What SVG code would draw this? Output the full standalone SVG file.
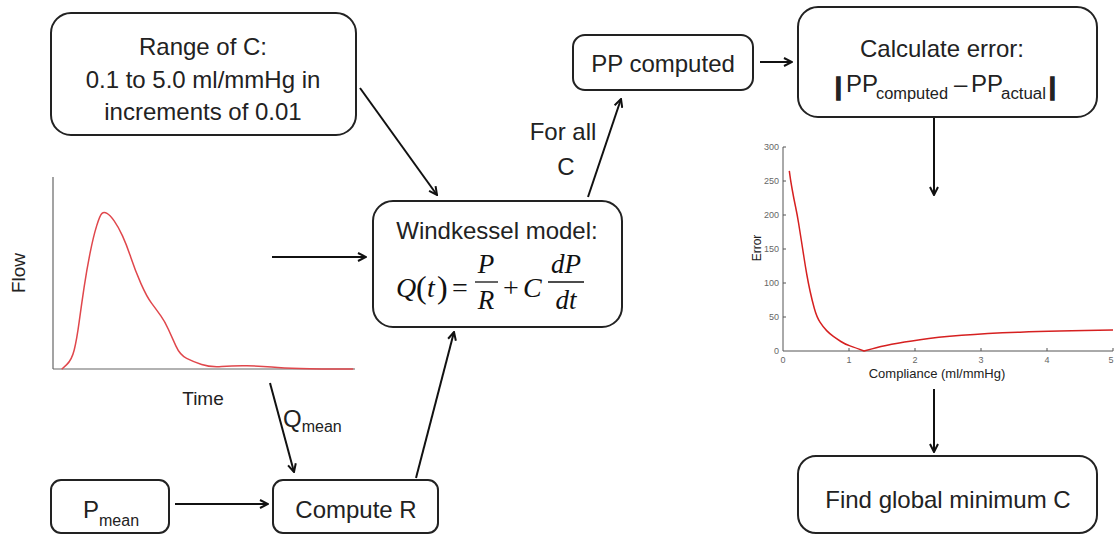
<svg xmlns="http://www.w3.org/2000/svg" width="1116" height="535" viewBox="0 0 1116 535">
<style>
.box{fill:#fff;stroke:#222;stroke-width:2}
.t{font-family:"Liberation Sans",Arial,sans-serif;font-size:24px;fill:#222}
.sub{font-family:"Liberation Sans",Arial,sans-serif;font-size:16px;fill:#222}
.m{font-family:"Liberation Serif","Times New Roman",serif;font-style:italic;fill:#111}
.mn{font-family:"Liberation Serif","Times New Roman",serif;fill:#111}
.con{stroke:#111;stroke-width:2;fill:none;marker-end:url(#ah)}
.ax{stroke:#555;stroke-width:1;fill:none}
.tick{font-family:"Liberation Sans",Arial,sans-serif;font-size:9px;fill:#666}
.lbl{font-family:"Liberation Sans",Arial,sans-serif;fill:#222}
</style>
<defs>
<marker id="ah" viewBox="0 0 10 10" refX="9" refY="5" markerWidth="10" markerHeight="10" markerUnits="userSpaceOnUse" orient="auto">
<path d="M1,1 L9,5 L1,9" stroke="#111" stroke-width="2" fill="none"/>
</marker>
</defs>
<rect width="1116" height="535" fill="#fff"/>

<g id="connectors">
<line class="con" x1="360" y1="88" x2="437" y2="195"/>
<line class="con" x1="272" y1="257" x2="366" y2="257"/>
<line class="con" x1="270" y1="383" x2="294" y2="472"/>
<line class="con" x1="175" y1="504" x2="268" y2="504"/>
<line class="con" x1="416" y1="478" x2="454" y2="332"/>
<line class="con" x1="588" y1="197" x2="621" y2="99"/>
<line class="con" x1="760" y1="62" x2="792" y2="62"/>
<line class="con" x1="934" y1="118" x2="934" y2="195"/>
<line class="con" x1="934" y1="389" x2="934" y2="452"/>
<text class="t" x="563" y="140" text-anchor="middle">For all</text>
<text class="t" x="566" y="175" text-anchor="middle">C</text>
<text class="t" x="283" y="427">Q<tspan class="sub" dy="5">mean</tspan></text>
</g>

<g id="range">
<rect class="box" x="51" y="13" width="305" height="122" rx="20"/>
<text class="t" x="203" y="55" text-anchor="middle">Range of C:</text>
<text class="t" x="203" y="88" text-anchor="middle">0.1 to 5.0 ml/mmHg in</text>
<text class="t" x="203" y="120" text-anchor="middle">increments of 0.01</text>
</g>

<g id="flow-graph">
<line x1="53" y1="177" x2="53" y2="369" stroke="#666" stroke-width="1.2"/>
<line x1="53" y1="369" x2="355" y2="369" stroke="#666" stroke-width="1.2"/>
<path fill="none" stroke="#e0474c" stroke-width="1.5" d="M61.7,369.3 L66.7,364.65 Q71.7,360 74.2,350 Q76.7,340 79.2,321.65 Q81.7,303.3 84.2,286.65 Q86.7,270 90,253.35 Q93.3,236.7 96.65,225.85 Q100,215 102,213.35 Q104,211.7 107,213.35 Q110,215 114.15,220.85 Q118.3,226.7 122.5,235.85 Q126.7,245 130.85,257.5 Q135,270 140.85,283.35 Q146.7,296.7 151.7,303.35 Q156.7,310 160.85,315.85 Q165,321.7 168.35,329.2 Q171.7,336.7 175.85,345.85 Q180,355 186.65,358.35 Q193.3,361.7 201.65,364.5 Q210,367.3 221.65,366.5 Q233.3,365.7 246.65,365.85 Q260,366 271.65,367 Q283.3,368 300,368.5 Q316.7,369 353.3,369"/>
<text class="lbl" font-size="19" transform="translate(25,273) rotate(-90)" text-anchor="middle">Flow</text>
<text class="lbl" font-size="19" x="203" y="405" text-anchor="middle">Time</text>
</g>

<g id="windkessel">
<rect class="box" x="373" y="201" width="249" height="126" rx="20"/>
<text class="t" x="497" y="239" text-anchor="middle">Windkessel model:</text>
<text class="m" font-size="28" x="396" y="297">Q</text>
<text class="mn" font-size="32" x="416" y="298">(</text>
<text class="m" font-size="28" x="427" y="297">t</text>
<text class="mn" font-size="32" x="437" y="298">)</text>
<text class="mn" font-size="28" x="452" y="297">=</text>
<text class="m" font-size="27" x="486" y="273" text-anchor="middle">P</text>
<line x1="475" y1="282" x2="498" y2="282" stroke="#111" stroke-width="1.3"/>
<text class="m" font-size="27" x="486" y="309" text-anchor="middle">R</text>
<text class="mn" font-size="28" x="503" y="297">+</text>
<text class="m" font-size="28" x="523" y="297">C</text>
<text class="m" font-size="27" x="566" y="273" text-anchor="middle">dP</text>
<line x1="548" y1="282" x2="584" y2="282" stroke="#111" stroke-width="1.3"/>
<text class="m" font-size="27" x="566" y="309" text-anchor="middle">dt</text>
</g>

<g id="pp-computed">
<rect class="box" x="573" y="35" width="180" height="55" rx="12"/>
<text class="t" x="663" y="72" text-anchor="middle">PP computed</text>
</g>

<g id="calc-error">
<rect class="box" x="798" y="7" width="299" height="110" rx="20"/>
<text class="t" x="942" y="57" text-anchor="middle">Calculate error:</text>
<text class="t" x="835" y="95" font-weight="bold" stroke="#222" stroke-width="1.5">|</text>
<text class="t" x="846" y="92">PP</text>
<text class="sub" x="876" y="99" textLength="72" lengthAdjust="spacingAndGlyphs">computed</text>
<text class="t" x="954" y="92">–</text>
<text class="t" x="971" y="92">PP</text>
<text class="sub" x="1001" y="99" textLength="45" lengthAdjust="spacingAndGlyphs">actual</text>
<text class="t" x="1049" y="95" font-weight="bold" stroke="#222" stroke-width="1.5">|</text>
</g>

<g id="error-plot">
<polyline class="ax" points="783,147 783,351 1113,351"/>
<g stroke="#555" stroke-width="1">
<line x1="783" y1="147" x2="786" y2="147"/>
<line x1="783" y1="181" x2="786" y2="181"/>
<line x1="783" y1="215" x2="786" y2="215"/>
<line x1="783" y1="249" x2="786" y2="249"/>
<line x1="783" y1="283" x2="786" y2="283"/>
<line x1="783" y1="317" x2="786" y2="317"/>
<line x1="849" y1="351" x2="849" y2="348"/>
<line x1="915" y1="351" x2="915" y2="348"/>
<line x1="981" y1="351" x2="981" y2="348"/>
<line x1="1047" y1="351" x2="1047" y2="348"/>
<line x1="1113" y1="351" x2="1113" y2="348"/>
</g>
<g class="tick" text-anchor="end">
<text x="779" y="150">300</text>
<text x="779" y="184">250</text>
<text x="779" y="218">200</text>
<text x="779" y="252">150</text>
<text x="779" y="286">100</text>
<text x="779" y="320">50</text>
<text x="779" y="354">0</text>
</g>
<g class="tick" text-anchor="middle">
<text x="783" y="363">0</text>
<text x="849" y="363">1</text>
<text x="915" y="363">2</text>
<text x="981" y="363">3</text>
<text x="1047" y="363">4</text>
<text x="1111" y="363">5</text>
</g>
<path fill="none" stroke="#d62020" stroke-width="1.5" stroke-linejoin="round" d="M789.3,170.8 L790,175.9 Q790.7,181 792.2,189.5 Q793.7,198 795.5,206.5 Q797.3,215 798.65,223.5 Q800,232 801.35,240.5 Q802.7,249 804,257.5 Q805.3,266 806.8,274.5 Q808.3,283 810.15,291.5 Q812,300 814.35,308.5 Q816.7,317 820,322.1 Q823.3,327.2 826.65,330.6 Q830,334 833.35,336.4 Q836.7,338.8 840.85,341.5 Q845,344.2 850,345.9 Q855,347.6 864,351 L872,348.85 Q880,346.7 891.65,344.35 Q903.3,342 920,339.65 Q936.7,337.3 961.7,335.3 Q986.7,333.3 1020,332.15 Q1053.3,331 1113,330"/>
<text class="lbl" font-size="12" transform="translate(761,248) rotate(-90)" text-anchor="middle">Error</text>
<text class="lbl" font-size="13" x="937" y="378" text-anchor="middle">Compliance (ml/mmHg)</text>
</g>

<g id="find-min">
<rect class="box" x="798" y="456" width="299" height="77" rx="18"/>
<text class="t" x="948" y="508" text-anchor="middle">Find global minimum C</text>
</g>

<g id="p-mean">
<rect class="box" x="51" y="480" width="118" height="53" rx="10"/>
<text class="t" x="83" y="518">P<tspan class="sub" dy="8">mean</tspan></text>
</g>

<g id="compute-r">
<rect class="box" x="273" y="480" width="165" height="53" rx="10"/>
<text class="t" x="356" y="518" text-anchor="middle">Compute R</text>
</g>
</svg>
